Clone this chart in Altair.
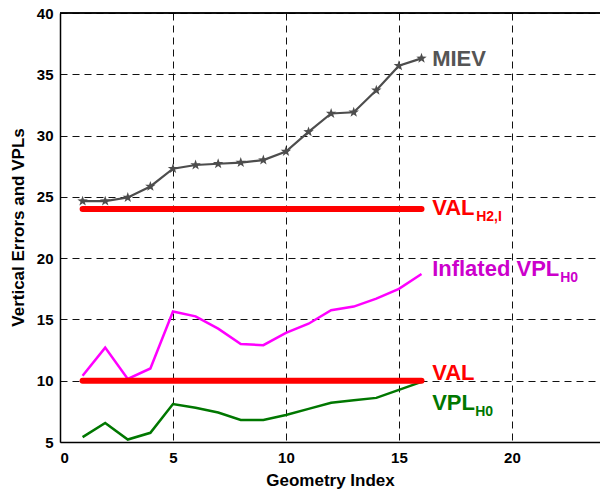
import altair as alt
import pandas as pd

geometry = list(range(1, 17))
miev = [24.65, 24.65, 24.95, 25.85, 27.3, 27.6, 27.7, 27.8, 28.0, 28.7, 30.3, 31.8, 31.9, 33.7, 35.7, 36.3]
inflated_vpl = [10.4, 12.7, 10.15, 11.0, 15.65, 15.25, 14.25, 13.0, 12.9, 13.9, 14.65, 15.75, 16.05, 16.7, 17.5, 18.7]
vpl_h0 = [5.4, 6.55, 5.2, 5.75, 8.1, 7.8, 7.4, 6.8, 6.8, 7.2, 7.7, 8.2, 8.4, 8.6, 9.25, 9.9]
val_h2i = 24.0
val = 10.0

x_ticks = [0, 5, 10, 15, 20]
y_ticks = [5, 10, 15, 20, 25, 30, 35, 40]

df = pd.DataFrame({"g": geometry, "miev": miev, "inf": inflated_vpl, "vpl": vpl_h0})
df_val = pd.DataFrame({"x": [1, 16], "val": [val, val], "valh": [val_h2i, val_h2i]})

labels = pd.DataFrame({
    "x": [16.47, 16.47, 16.47, 16.47, 16.47],
    "y": [35.68, 23.52, 18.57, 10.07, 7.62],
    "text": ["MIEV", "VAL", "Inflated VPL", "VAL", "VPL"],
    "color": ["#555555", "#ff0000", "#cc00cc", "#ff0000", "#007700"],
})
subs = pd.DataFrame({
    "x": [16.47, 16.47, 16.47],
    "y": [23.52, 18.57, 7.62],
    "text": ["H2,I", "H0", "H0"],
    "color": ["#ff0000", "#cc00cc", "#007700"],
    "dx": [44, 128, 43],
})

FONT = "Liberation Sans"
W, H = 540, 429

xs = alt.Scale(domain=[0, 23.9], nice=False, zero=False)
ys = alt.Scale(domain=[5, 40], nice=False, zero=False)

grid_common = dict(grid=True, gridColor="#111111", gridDash=[7, 5], gridWidth=1,
                   ticks=False, domain=True, domainColor="#000000", domainWidth=1.5,
                   labelFont=FONT, labelFontWeight="bold",
                   labelFontSize=15, labelColor="#000000", titleFont=FONT,
                   titleFontWeight="bold", titleFontSize=17, titleColor="#000000")

x_axis = alt.Axis(values=x_ticks, title="Geometry Index", labelPadding=8,
                  titleX=270, titleY=38, titleBaseline="middle", titleAnchor="middle",
                  **grid_common)
y_axis = alt.Axis(values=y_ticks, title="Vertical Errors and VPLs", labelPadding=7,
                  titleX=-42, titleY=214, titleBaseline="middle", titleAngle=-90,
                  titleAnchor="middle", **grid_common)

X = alt.X("g:Q", scale=xs, axis=x_axis)

star = "M0,-1L0.235,-0.324L0.951,-0.309L0.38,0.124L0.588,0.809L0,0.4L-0.588,0.809L-0.38,0.124L-0.951,-0.309L-0.235,-0.324Z"

base = alt.Chart(df)

miev_line = base.mark_line(color="#4d4d4d", strokeWidth=2.2).encode(
    x=X, y=alt.Y("miev:Q", scale=ys, axis=y_axis))
miev_pts = base.mark_point(shape=star, filled=True, color="#4d4d4d", size=120, opacity=1).encode(
    x=alt.X("g:Q", scale=xs), y=alt.Y("miev:Q", scale=ys))
inf_line = base.mark_line(color="#ff00ff", strokeWidth=2.5).encode(
    x=alt.X("g:Q", scale=xs), y=alt.Y("inf:Q", scale=ys))
vpl_line = base.mark_line(color="#007700", strokeWidth=2.5).encode(
    x=alt.X("g:Q", scale=xs), y=alt.Y("vpl:Q", scale=ys))

val_line = alt.Chart(df_val).mark_line(color="#ff0000", strokeWidth=6, strokeCap="round").encode(
    x=alt.X("x:Q", scale=xs), y=alt.Y("val:Q", scale=ys))
valh_line = alt.Chart(df_val).mark_line(color="#ff0000", strokeWidth=6, strokeCap="round").encode(
    x=alt.X("x:Q", scale=xs), y=alt.Y("valh:Q", scale=ys))

top_border = alt.Chart(df_val).mark_rule(color="#000000", strokeWidth=1.5).encode(
    x=alt.value(0), x2=alt.value(W), y=alt.value(0))

label_text = alt.Chart(labels).mark_text(font=FONT, fontWeight="bold", fontSize=22,
                                         align="left", baseline="alphabetic").encode(
    x=alt.X("x:Q", scale=xs), y=alt.Y("y:Q", scale=ys), text="text:N",
    color=alt.Color("color:N", scale=None))

sub_layers = []
for i in range(len(subs)):
    row = subs.iloc[[i]]
    sub_layers.append(
        alt.Chart(row).mark_text(font=FONT, fontWeight="bold", fontSize=14, align="left",
                                 baseline="alphabetic", dx=int(row["dx"].iloc[0]), dy=6).encode(
            x=alt.X("x:Q", scale=xs), y=alt.Y("y:Q", scale=ys), text="text:N",
            color=alt.Color("color:N", scale=None))
    )

chart = alt.layer(miev_line, miev_pts, inf_line, vpl_line, valh_line, val_line,
                  top_border, label_text, *sub_layers).properties(
    width=W, height=H,
    autosize=alt.AutoSizeParams(type="none"),
    padding={"left": 60, "top": 13, "right": 0, "bottom": 48},
    background="white",
).configure_view(stroke=None)

chart.save("out.html", embed_options={"renderer": "svg", "actions": False})
